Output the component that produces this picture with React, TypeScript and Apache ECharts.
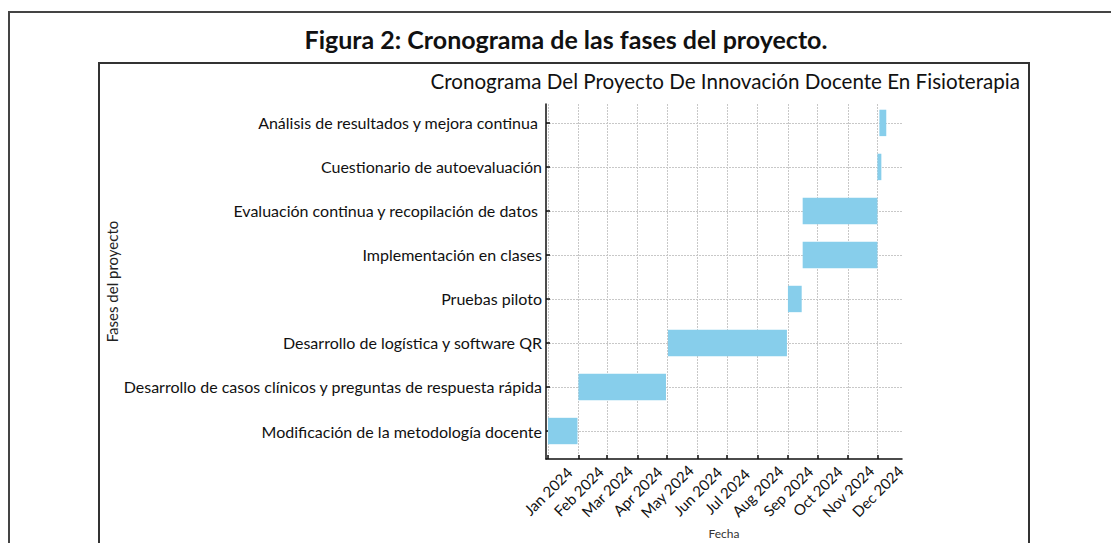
import React, { useEffect, useRef } from "react";
import * as echarts from "echarts";

const phases: string[] = [
  "Modificación de la metodología docente",
  "Desarrollo de casos clínicos y preguntas de respuesta rápida",
  "Desarrollo de logística y software QR",
  "Pruebas piloto",
  "Implementación en clases",
  "Evaluación continua y recopilación de datos ",
  "Cuestionario de autoevaluación",
  "Análisis de resultados y mejora continua ",
];
const startDates: string[] = [
  "2024-01-01",
  "2024-02-01",
  "2024-05-02",
  "2024-09-01",
  "2024-09-16",
  "2024-09-16",
  "2024-12-01",
  "2024-12-03",
];
const endDates: string[] = [
  "2024-01-31",
  "2024-04-30",
  "2024-08-31",
  "2024-09-15",
  "2024-12-01",
  "2024-12-01",
  "2024-12-05",
  "2024-12-10",
];
const monthTicks: string[] = [
  "2024-01-01", "2024-02-01", "2024-03-01", "2024-04-01", "2024-05-01", "2024-06-01",
  "2024-07-01", "2024-08-01", "2024-09-01", "2024-10-01", "2024-11-01", "2024-12-01",
];
const monthNames: string[] = ["Jan", "Feb", "Mar", "Apr", "May", "Jun", "Jul", "Aug", "Sep", "Oct", "Nov", "Dec"];
const xMinDate = "2023-12-30";
const xMaxDate = "2024-12-26";

const ts = (d: string) => Date.parse(d + "T00:00:00Z");
const FONT = "Lato";

export default function App() {
  const ref = useRef<HTMLDivElement>(null);
  useEffect(() => {
    if (!ref.current) return;
    const chart = echarts.init(ref.current, null, { renderer: "svg" });
    const data = phases.map((_, i) => [ts(startDates[i]), ts(endDates[i]), i]);
    const tickVals = monthTicks.map(ts);
    const option: any = {
      animation: false,
      backgroundColor: "#ffffff",
      textStyle: { fontFamily: FONT },
      grid: { left: 546, top: 104, right: 209, bottom: 84, containLabel: false, outerBoundsMode: "none" },
      xAxis: {
        type: "value",
        min: ts(xMinDate),
        max: ts(xMaxDate),
        name: "Fecha",
        nameLocation: "middle",
        nameGap: 66,
        nameTextStyle: { fontFamily: FONT, fontSize: 12, color: "#333" },
        axisLine: { show: true, onZero: false, lineStyle: { color: "#111", width: 1.5 } },
        axisTick: { show: true, inside: true, length: 4, lineStyle: { color: "#111", width: 1.5 }, customValues: tickVals },
        axisLabel: {
          customValues: tickVals,
          rotate: 45,
          align: "center",
          verticalAlign: "middle",
          margin: 32,
          fontFamily: FONT,
          fontSize: 15,
          color: "#111",
          formatter: (v: number) => {
            const d = new Date(v);
            return monthNames[d.getUTCMonth()] + " " + d.getUTCFullYear();
          },
        },
        splitLine: { show: true, lineStyle: { color: "#c8c8c8", type: [2, 1], width: 1 } },
      },
      yAxis: {
        type: "value",
        min: -0.636,
        max: 7.43,
        name: "Fases del proyecto",
        nameLocation: "middle",
        nameGap: 418,
        nameRotate: 90,
        nameTextStyle: { fontFamily: FONT, fontSize: 15, color: "#222" },
        axisLine: { show: true, onZero: false, lineStyle: { color: "#111", width: 1.5 } },
        axisTick: { show: true, inside: true, length: 4, lineStyle: { color: "#111", width: 1.5 }, customValues: phases.map((_, i) => i) },
        axisLabel: {
          customValues: phases.map((_, i) => i),
          margin: 4,
          fontFamily: FONT,
          fontSize: 16,
          color: "#111",
          formatter: (v: number) => phases[Math.round(v)] ?? "",
        },
        splitLine: { show: true, lineStyle: { color: "#c8c8c8", type: [2, 1], width: 1 } },
      },
      series: [
        {
          type: "custom",
          encode: { x: [0, 1], y: 2 },
          data,
          renderItem: (params: any, api: any) => {
            const s = api.coord([api.value(0), api.value(2)]);
            const e = api.coord([api.value(1), api.value(2)]);
            const h = api.size([0, 0.6])[1];
            return {
              type: "rect",
              shape: { x: s[0], y: s[1] - h / 2, width: e[0] - s[0], height: h },
              style: { fill: "#87CEEB" },
            };
          },
        },
      ],
      graphic: [
        {
          type: "rect",
          shape: { x: 9, y: 12, width: 1120, height: 560 },
          style: { fill: "none", stroke: "#444", lineWidth: 2 },
          silent: true,
        },
        {
          type: "rect",
          shape: { x: 99, y: 63, width: 930, height: 520 },
          style: { fill: "none", stroke: "#333", lineWidth: 2 },
          silent: true,
        },
        {
          type: "text",
          x: 566,
          y: 39,
          style: {
            text: "Figura 2: Cronograma de las fases del proyecto.",
            fontFamily: FONT,
            fontSize: 25,
            fontWeight: "bold",
            fill: "#111",
            textAlign: "center",
            textVerticalAlign: "middle",
          },
        },
        {
          type: "text",
          x: 1020,
          y: 81,
          style: {
            text: "Cronograma Del Proyecto De Innovación Docente En Fisioterapia",
            fontFamily: FONT,
            fontSize: 20.6,
            fill: "#111",
            textAlign: "right",
            textVerticalAlign: "middle",
          },
        },
      ],
    };
    chart.setOption(option);
    return () => chart.dispose();
  }, []);
  return (
    <div
      ref={ref}
      style={{ position: "fixed", left: 0, top: 0, width: 1111, height: 543, background: "#fff" }}
    />
  );
}
